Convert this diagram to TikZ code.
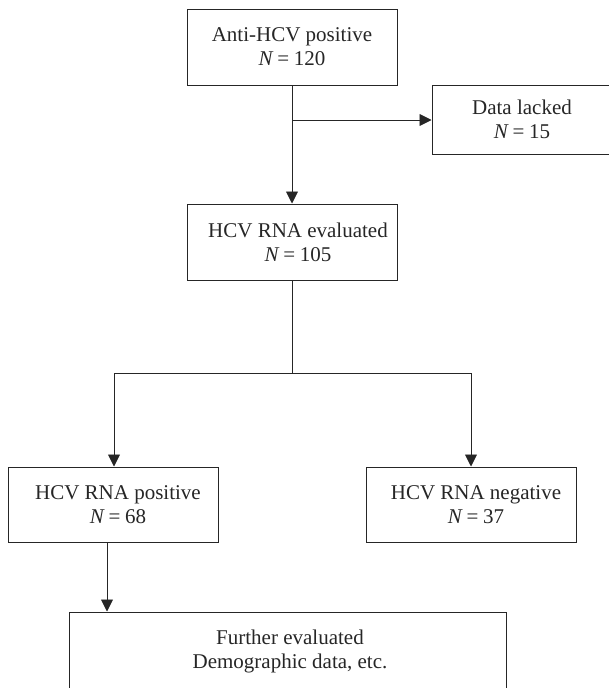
\documentclass[tikz,border=0pt]{standalone}
\usepackage{fontspec}
\setmainfont{Liberation Serif}
\usetikzlibrary{arrows.meta}
\newcommand{\eqsp}{\hspace{0.22em}=\hspace{0.22em}}
\begin{document}
\begin{tikzpicture}[x=1pt,y=-1pt,
  box/.style={draw=black!85,line width=1pt,rectangle,align=center,inner sep=0pt,
    font=\fontsize{21}{24}\selectfont,text=black!85},
  conn/.style={draw=black!85,line width=0.9pt},
  arr/.style={conn,-{Triangle[length=12pt,width=12pt]}}]
\useasboundingbox (0,0) rectangle (609,688);
\node[box,minimum width=210pt,minimum height=76pt] (A) at (292,47) {Anti-HCV positive\\{\itshape N}\eqsp120};
\node[box,minimum width=180pt,minimum height=69pt] (D) at (522,119.5) {Data lacked\\{\itshape N}\eqsp15};
\node[box,minimum width=210pt,minimum height=76pt] (E) at (292,242) {\hspace*{12pt}HCV RNA evaluated\\\hspace*{12pt}{\itshape N}\eqsp105};
\node[box,minimum width=210pt,minimum height=75pt] (P) at (113,504.5) {\hspace*{10pt}HCV RNA positive\\\hspace*{10pt}{\itshape N}\eqsp68};
\node[box,minimum width=210pt,minimum height=75pt] (G) at (471,504.5) {\hspace*{10pt}HCV RNA negative\\\hspace*{10pt}{\itshape N}\eqsp37};
\node[box,minimum width=437pt,minimum height=78pt] (F) at (287.5,651) {\hspace*{5pt}Further evaluated\\\hspace*{5pt}Demographic data, etc.};
\coordinate (b1) at (292,120);
\coordinate (b2) at (292,373);
\coordinate (bl) at (114,373);
\coordinate (br) at (471,373);
\draw[arr] (A.south) -- (E.north);
\draw[arr] (b1) -- (D.west |- b1);
\draw[conn] (E.south) -- (b2);
\draw[conn] (bl) -- (br);
\draw[arr] (bl) -- (bl |- P.north);
\draw[arr] (br) -- (G.north);
\draw[arr] ([xshift=-6pt]P.south) -- ([xshift=-6pt]P.south |- F.north);
\end{tikzpicture}
\end{document}
